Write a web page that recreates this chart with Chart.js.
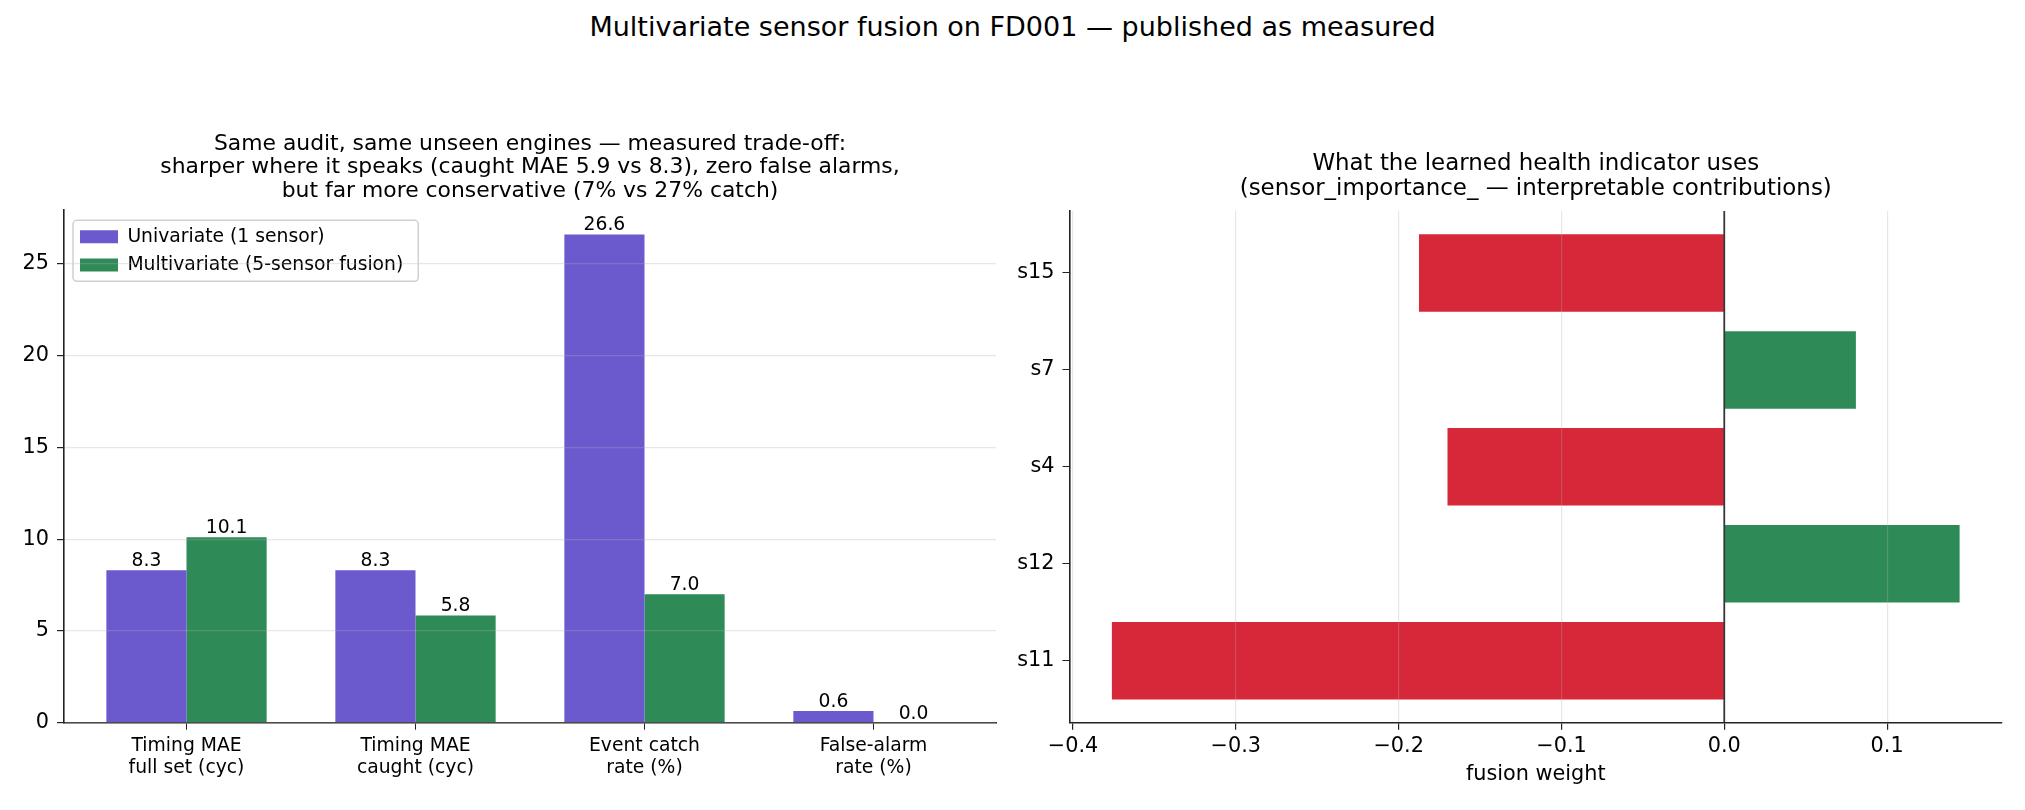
<!DOCTYPE html>
<html>
<head>
<meta charset="utf-8">
<script src="https://cdn.jsdelivr.net/npm/chart.js@4.4.1/dist/chart.umd.min.js"></script>
<style>
  body { margin: 0; background: #fff; width: 2025px; height: 810px; position: relative; overflow: hidden; font-family: "DejaVu Sans", sans-serif; }
  #suptitle { position: absolute; left: 0; top: 12px; width: 2025px; text-align: center; font-size: 27px; line-height: 30px; color: #000; }
  #left { position: absolute; left: 0; top: 0; }
  #right { position: absolute; left: 1012px; top: 0; }
</style>
</head>
<body>
<div id="suptitle">Multivariate sensor fusion on FD001 — published as measured</div>
<canvas id="left" width="1012" height="810"></canvas>
<canvas id="right" width="1013" height="810"></canvas>
<script>
// left panel: audit metrics
var metricLabels = ["Timing MAE\nfull set (cyc)", "Timing MAE\ncaught (cyc)", "Event catch\nrate (%)", "False-alarm\nrate (%)"];
var univariate = [8.31, 8.31, 26.6, 0.64];
var multivariate = [10.1, 5.84, 7.0, 0.0];

// right panel: learned fusion weights (bottom to top)
var sensors = ["s11", "s12", "s4", "s7", "s15"];
var fusionWeights = [-0.3761, 0.1445, -0.170, 0.0808, -0.1875];

var PURPLE = '#6a5acd';
var GREEN = '#2e8b57';
var RED = '#d62839';
var GRID = 'rgba(176,176,176,0.3)';
var SPINE = '#222';

Chart.defaults.font.family = "'DejaVu Sans', sans-serif";
Chart.defaults.color = '#000';
Chart.defaults.animation = false;

// put ticks exactly on the given values
function fixedTicks(values) {
    return function (scale) {
        scale.ticks = values.map(function (v) { return {value: v}; });
    };
}

function stepValues(lo, hi, step) {
    var out = [];
    for (var k = Math.ceil(lo / step - 1e-9); k * step <= hi + 1e-9; k++) {
        out.push(Math.round(k * step * 1000) / 1000);
    }
    return out;
}

// numbers on top of each bar
var barValueLabels = {
    id: 'barValueLabels',
    afterDatasetsDraw: function (chart) {
        var ctx = chart.ctx;
        ctx.save();
        ctx.font = "18.75px 'DejaVu Sans'";
        ctx.fillStyle = '#000';
        ctx.textAlign = 'center';
        ctx.textBaseline = 'alphabetic';
        chart.data.datasets.forEach(function (ds, di) {
            chart.getDatasetMeta(di).data.forEach(function (bar, i) {
                ctx.fillText(ds.data[i].y.toFixed(1), bar.x, bar.y - 4);
            });
        });
        ctx.restore();
    }
};

// move the chartArea legend to the upper left corner, inside the axes
var legendInside = {
    id: 'legendInside',
    afterUpdate: function (chart) {
        var lg = chart.legend;
        if (!lg) return;
        var a = chart.chartArea;
        lg.left = a.left + 6.5;
        lg.right = lg.left + lg.width;
        lg.top = a.top + 7.8;
        lg.bottom = lg.top + lg.height;
    },
    afterDraw: function (chart) {
        var lg = chart.legend;
        if (!lg) return;
        var o = lg.options.labels;
        var ctx = chart.ctx;
        ctx.save();
        ctx.font = o.font.size + "px 'DejaVu Sans'";
        var tw = 0;
        chart.data.datasets.forEach(function (ds) { tw = Math.max(tw, ctx.measureText(ds.label).width); });
        var n = chart.data.datasets.length;
        var l = lg.left + o.padding - 7;
        var t = lg.top + o.padding - 7;
        var w = o.boxWidth + o.font.size / 2 + tw + 22;
        var h = n * o.font.size + (n - 1) * o.padding + 14;
        ctx.strokeStyle = '#d0d0d0';
        ctx.lineWidth = 1.5;
        ctx.beginPath();
        ctx.roundRect(l, t, w, h, 4);
        ctx.stroke();
        ctx.restore();
    }
};

var zeroLine = {
    id: 'zeroLine',
    afterDatasetsDraw: function (chart) {
        var x = chart.scales.x.getPixelForValue(0);
        var a = chart.chartArea;
        var ctx = chart.ctx;
        ctx.save();
        ctx.strokeStyle = '#000';
        ctx.lineWidth = 1.6;
        ctx.beginPath();
        ctx.moveTo(x, a.top);
        ctx.lineTo(x, a.bottom);
        ctx.stroke();
        ctx.restore();
    }
};

var uniPoints = univariate.map(function (v, i) { return {x: i, y: v}; });
var multiPoints = multivariate.map(function (v, i) { return {x: i, y: v}; });
var leftMax = Math.max.apply(null, univariate.concat(multivariate)) * 1.05;
var metricIdx = metricLabels.map(function (_, i) { return i; });

new Chart(document.getElementById('left'), {
    type: 'bar',
    data: {
        datasets: [{
            label: 'Univariate (1 sensor)',
            data: uniPoints,
            backgroundColor: PURPLE,
            categoryPercentage: 0.7,
            barPercentage: 1.0
        }, {
            label: 'Multivariate (5-sensor fusion)',
            data: multiPoints,
            backgroundColor: GREEN,
            categoryPercentage: 0.7,
            barPercentage: 1.0
        }]
    },
    options: {
        responsive: false,
        devicePixelRatio: 1,
        layout: {padding: {left: 0, right: 16, top: 0, bottom: 0}},
        plugins: {
            title: {
                display: true,
                fullSize: false,
                text: ['Same audit, same unseen engines — measured trade-off:',
                       'sharper where it speaks (caught MAE 5.9 vs 8.3), zero false alarms,',
                       'but far more conservative (7% vs 27% catch)'],
                font: {size: 21.875, weight: 'normal', lineHeight: 1.086},
                color: '#000',
                padding: {top: 132, bottom: 6.7}
            },
            legend: {
                position: 'chartArea',
                align: 'start',
                labels: {
                    boxWidth: 38,
                    boxHeight: 13,
                    padding: 9.5,
                    font: {size: 18.75},
                    color: '#000'
                }
            },
            tooltip: {enabled: false}
        },
        scales: {
            x: {
                type: 'linear',
                offset: false,
                min: -0.535,
                max: metricLabels.length - 1 + 0.535,
                afterBuildTicks: fixedTicks(metricIdx),
                afterFit: function (s) { s.height = 87.3; },
                grid: {offset: false, drawOnChartArea: false, drawTicks: true, tickLength: 7, tickColor: SPINE},
                border: {color: SPINE, width: 1.6},
                ticks: {
                    autoSkip: false,
                    maxRotation: 0,
                    padding: 5,
                    font: {size: 18.75, lineHeight: 1.2},
                    color: '#000',
                    callback: function (v) { return metricLabels[v] ? metricLabels[v].split('\n') : ''; }
                }
            },
            y: {
                min: 0,
                max: leftMax,
                afterBuildTicks: fixedTicks(stepValues(0, leftMax, 5)),
                afterFit: function (s) { s.width = 64; },
                grid: {color: GRID, lineWidth: 1.2, tickLength: 7, tickColor: SPINE, z: 1},
                border: {color: SPINE, width: 1.6, z: 2},
                ticks: {padding: 8, font: {size: 20.8}, color: '#000'}
            }
        }
    },
    plugins: [barValueLabels, legendInside]
});

var weightPoints = fusionWeights.map(function (w, i) { return {x: w, y: i}; });
var wMin = Math.min.apply(null, fusionWeights.concat([0]));
var wMax = Math.max.apply(null, fusionWeights.concat([0]));
var wPad = (wMax - wMin) * 0.05;
var sPad = (sensors.length - 1 + 0.8) * 0.05 + 0.4;
var sensorIdx = sensors.map(function (_, i) { return i; });

new Chart(document.getElementById('right'), {
    type: 'bar',
    data: {
        datasets: [{
            label: 'fusion weight',
            data: weightPoints,
            backgroundColor: fusionWeights.map(function (w) { return w >= 0 ? GREEN : RED; }),
            categoryPercentage: 0.8,
            barPercentage: 1.0
        }]
    },
    options: {
        indexAxis: 'y',
        responsive: false,
        devicePixelRatio: 1,
        layout: {padding: {left: 0, right: 23, top: 0, bottom: 0}},
        plugins: {
            title: {
                display: true,
                fullSize: false,
                text: ['What the learned health indicator uses',
                       '(sensor_importance_ — interpretable contributions)'],
                font: {size: 22.92, weight: 'normal', lineHeight: 1.09},
                color: '#000',
                padding: {top: 151.3, bottom: 9.7}
            },
            legend: {display: false},
            tooltip: {enabled: false}
        },
        scales: {
            x: {
                type: 'linear',
                min: wMin - wPad,
                max: wMax + wPad,
                afterBuildTicks: fixedTicks(stepValues(wMin - wPad, wMax + wPad, 0.1)),
                afterFit: function (s) { s.height = 87.3; },
                grid: {color: GRID, lineWidth: 1.2, tickLength: 7, tickColor: SPINE, z: 1},
                border: {color: SPINE, width: 1.6, z: 2},
                title: {display: true, text: 'fusion weight', font: {size: 20.8, lineHeight: 1.2}, color: '#000', padding: {top: 4, bottom: 22.5}},
                ticks: {
                    padding: 4,
                    font: {size: 20.8},
                    color: '#000',
                    callback: function (v) { return v.toFixed(1).replace('-', '\u2212'); }
                }
            },
            y: {
                type: 'linear',
                offset: false,
                min: -sPad,
                max: sensors.length - 1 + sPad,
                afterBuildTicks: fixedTicks(sensorIdx),
                afterFit: function (s) { s.width = 57.5; },
                grid: {offset: false, drawOnChartArea: false, drawTicks: true, tickLength: 7, tickColor: SPINE},
                border: {color: SPINE, width: 1.6},
                ticks: {
                    padding: 8,
                    font: {size: 20.8},
                    color: '#000',
                    callback: function (v) { return sensors[v] || ''; }
                }
            }
        }
    },
    plugins: [zeroLine]
});
</script>
</body>
</html>
